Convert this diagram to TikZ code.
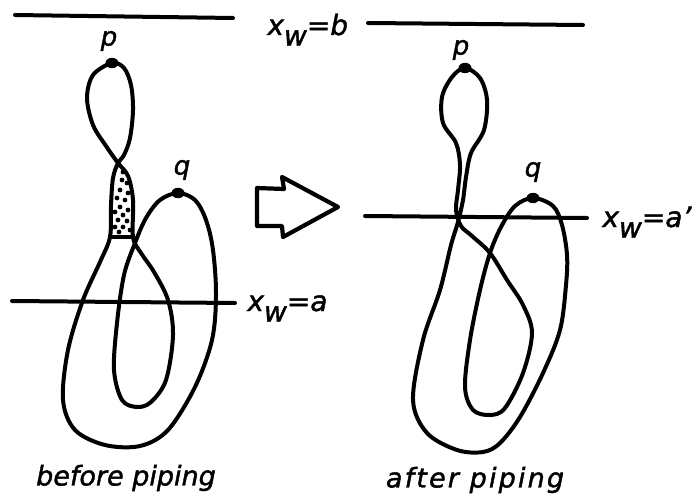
\documentclass[tikz,border=0pt]{standalone}
\usepackage{fontspec}
\setmainfont{DejaVu Sans}
\usetikzlibrary{positioning,shapes.geometric}

\newcommand{\xweq}[1]{x\raisebox{-0.7ex}{w}=#1}

\begin{document}
\begin{tikzpicture}[
  x=0.5pt, y=-0.5pt,
  curve/.style={line width=2pt, line join=round, line cap=round},
  level/.style={line width=2pt, line cap=round},
  dot/.style={ellipse, fill=black, inner sep=0pt, minimum width=6.5pt, minimum height=5.2pt},
  lbl/.style={font=\itshape\fontsize{13}{15}\selectfont\addfontfeature{FakeBold=1.5}, inner sep=0pt},
  eqlbl/.style={font=\itshape\fontsize{14}{16}\selectfont\addfontfeature{FakeBold=1.5}, inner sep=0pt, anchor=base west},
  caption/.style={font=\itshape\fontsize{13.5}{16}\selectfont\addfontfeature{FakeBold=1.5}, inner sep=0pt}
]
  \useasboundingbox (0,0) rectangle (699,497);

  % levels
  \draw[level] (15,15) -- (233,18);
  \draw[level] (368,23) -- (583,25);
  \draw[level] (12,301) -- (235,303);
  \draw[level] (365,216) -- (587,218);
  \node[eqlbl] (lvb) at (267,35) {\xweq{b}};
  \node[eqlbl] (lva) at (247,311) {\xweq{a}};
  \node[eqlbl] (lvaa) at (602,227) {\xweq{a'}};

  % before piping
  \coordinate (p1) at (112,63);
  \coordinate (q1) at (178,193);
  \begin{scope}
    \clip (118,163) -- (128,176) -- (133,200) -- (133,237) -- (110,237) -- (111,205) -- (113,178) -- cycle;
    \foreach \x/\y in {123/172, 122/180, 127/183, 120/190, 128/193, 117/198, 125/200,
                       120/207, 128/210, 115/212, 123/215, 118/220, 127/221, 115/227,
                       123/227, 130/230, 119/232}
      \fill (\x,\y) circle (2.4);
  \end{scope}
  \draw[curve] plot[smooth cycle, tension=0.55] coordinates {
    (p1) (124,68) (131,85) (133,110) (130,138) (124,155) (118,163) (113,178)
    (111,205) (110,237) (100,262) (83,300) (68,350) (63,400) (75,430) (105,445)
    (140,446) (168,430) (195,387) (212,340) (216,295) (213,250) (206,220) (195,200)
    (q1) (160,200) (146,218) (135,243) (124,275) (117,323) (114,370) (122,400)
    (137,407) (151,402) (166,380) (173,335) (168,300) (154,272) (141,253) (133,237)
    (133,200) (128,176) (118,163) (106,146) (93,125) (87,98) (93,75)};
  \draw[curve] (110,237) -- (133,237);
  \node[dot] (p1dot) at (p1) {};
  \node[dot] (q1dot) at (q1) {};
  \node[lbl] (p1l) at (109,41) {p};
  \node[lbl] (q1l) at (182,170) {q};
  \node[caption] (cap1) at (126,478) {before piping};

  % arrow
  \draw[line width=2.1pt, line join=round]
    (257,188) -- (284,189) -- (282,177) -- (338,207) -- (283,237) -- (282,226) -- (257,226) -- cycle;

  % after piping
  \coordinate (p2) at (465,68);
  \coordinate (q2) at (533,198);
  \draw[curve] plot[smooth cycle, tension=0.55] coordinates {
    (p2) (480,78) (487,100) (484,130) (471,153) (466,177) (463,200) (458,222)
    (451,245) (440,290) (423,340) (413,400) (427,433) (457,450) (483,452) (500,443)
    (520,417) (543,373) (560,330) (566,285) (567,255) (562,225) (553,206) (q2)
    (515,206) (501,227) (490,253) (480,290) (470,340) (465,387) (473,410) (490,415)
    (505,408) (523,373) (532,333) (523,305) (507,280) (490,253) (472,236) (461,226)
    (456,210) (458,190) (460,165) (456,143) (443,123) (442,97) (452,77)};
  \node[dot] (p2dot) at (p2) {};
  \node[dot] (q2dot) at (q2) {};
  \node[lbl] (p2l) at (461,50) {p};
  \node[lbl] (q2l) at (533,172) {q};
  \node[caption, font=\itshape\fontsize{13.5}{16}\selectfont\addfontfeature{FakeBold=1.5,LetterSpace=8}] (cap2) at (475,480) {after piping};
\end{tikzpicture}
\end{document}
